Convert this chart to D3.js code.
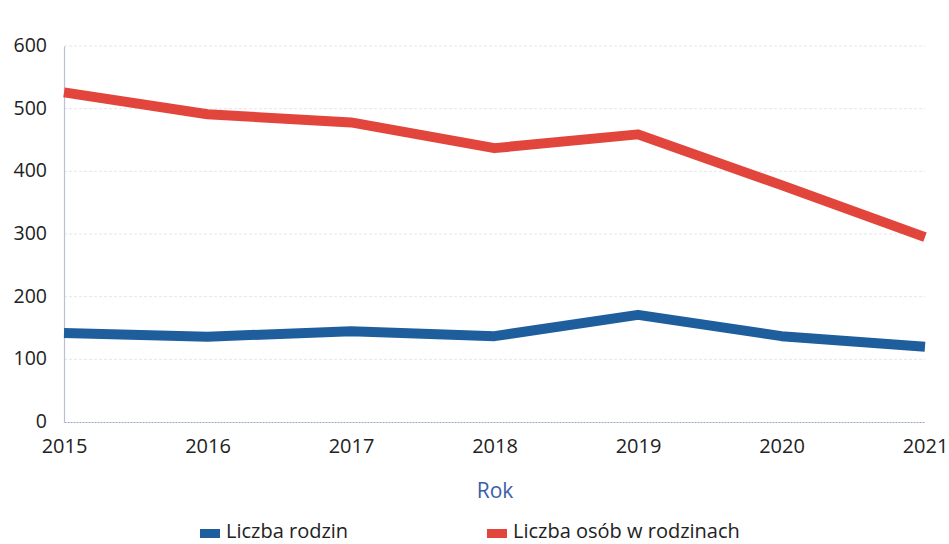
<!DOCTYPE html>
<html><head><meta charset="utf-8">
<script src="https://cdn.jsdelivr.net/npm/d3@7"></script>
<style>
html,body{margin:0;padding:0;background:#fff;}
svg{display:block;font-family:"Open Sans","Noto Sans",sans-serif;}
</style></head>
<body><svg id="c" width="949" height="544"></svg>
<script>
const years = [2015, 2016, 2017, 2018, 2019, 2020, 2021];
const rodziny = [142, 136, 145, 137, 171, 137, 120];
const osoby = [526, 491, 478, 437, 459, 378, 295];
const yTicks = [0, 100, 200, 300, 400, 500, 600];
const seriesNames = ["Liczba rodzin", "Liczba osób w rodzinach"];
const seriesColors = ["#1f5e9c", "#e2453b"];
const xTitle = "Rok";

const svg = d3.select("#c");
const x = d3.scaleLinear().domain([2015, 2021]).range([64, 925]);
const y = d3.scaleLinear().domain([0, 600]).range([422, 46]);

// grid
svg.append("g").selectAll("line").data(yTicks.filter(d => d > 0)).join("line")
  .attr("x1", 64).attr("x2", 925).attr("y1", d => y(d)).attr("y2", d => y(d))
  .attr("stroke", "#e4e6ee").attr("stroke-width", 1).attr("stroke-dasharray", "3,2");

// axes
const yAxis = svg.append("g").attr("transform", "translate(64,0)")
  .call(d3.axisLeft(y).tickValues(yTicks).tickSize(0).tickPadding(17));
yAxis.select(".domain").attr("stroke", "#b9bfd8").attr("stroke-width", 1.2);
yAxis.selectAll("text").attr("font-size", 19.5).attr("fill", "#222").attr("font-family", "Open Sans").attr("dy", "0.28em");

const xAxis = svg.append("g").attr("transform", "translate(0,422)")
  .call(d3.axisBottom(x).tickValues(years).tickFormat(d3.format("d")).tickSize(0).tickPadding(17));
xAxis.select(".domain").attr("stroke", "#9aa6cc").attr("stroke-width", 1.2).attr("stroke-dasharray", "2,1");
xAxis.selectAll("text").attr("font-size", 20).attr("fill", "#222").attr("font-family", "Open Sans");

svg.append("text").attr("x", 495).attr("y", 498).attr("text-anchor", "middle")
  .attr("font-size", 21).attr("fill", "#3b5ea6").text(xTitle);

// lines
const line = d3.line().x((d, i) => x(years[i])).y(d => y(d));
[rodziny, osoby].forEach((s, k) => {
  svg.append("path").datum(s).attr("d", line).attr("fill", "none")
    .attr("stroke", seriesColors[k]).attr("stroke-width", 10).attr("stroke-linejoin", "round");
});

// legend
const legX = [200, 487];
seriesNames.forEach((n, k) => {
  svg.append("rect").attr("x", legX[k]).attr("y", 529).attr("width", 20).attr("height", 9)
    .attr("fill", seriesColors[k]);
  svg.append("text").attr("x", legX[k] + 26).attr("y", 538).attr("font-size", 20)
    .attr("fill", "#222").text(n);
});
</script></body></html>
